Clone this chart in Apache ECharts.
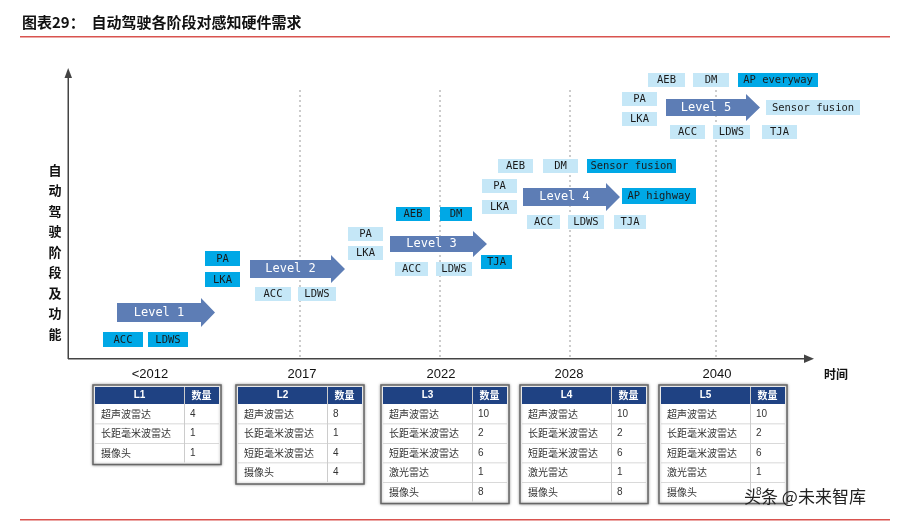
<!DOCTYPE html><html><head><meta charset="utf-8">
<script src="https://cdn.jsdelivr.net/npm/echarts@6/dist/echarts.min.js"></script>
<style>html,body{margin:0;background:#fff}#c{width:906px;height:527px}</style></head><body><div id="c"></div><script>
const title='图表29：  自动驾驶各阶段对感知硬件需求';
const yearLabels=['<2012','2017','2022','2028','2040'];
const yearX=[150,302,441,569,717];
const gridLineX=[300,440,570,716];
const levels=['Level 1','Level 2','Level 3','Level 4','Level 5'];
// boxes: [x0,y0,x1,y1,text,dark?]
const boxes=[
[103,332,143,347,'ACC',1],[148,332,188,347,'LDWS',1],
[205,251,240,266,'PA',1],[205,272,240,287,'LKA',1],[255,287,291,301,'ACC',0],[298,287,336,301,'LDWS',0],
[396,207,430,221,'AEB',1],[440,207,472,221,'DM',1],[348,227,383,241,'PA',0],[348,246,383,260,'LKA',0],
[395,262,428,276,'ACC',0],[436,262,472,276,'LDWS',0],[481,255,512,269,'TJA',1],
[498,159,533,173,'AEB',0],[543,159,578,173,'DM',0],[587,159,676,173,'Sensor fusion',1],
[482,179,517,193,'PA',0],[482,200,517,214,'LKA',0],[622,188,696,204,'AP highway',1],
[527,215,560,229,'ACC',0],[568,215,604,229,'LDWS',0],[614,215,646,229,'TJA',0],
[648,73,685,87,'AEB',0],[693,73,729,87,'DM',0],[738,73,818,87,'AP everyway',1],
[622,92,657,106,'PA',0],[622,112,657,126,'LKA',0],[766,100,860,115,'Sensor fusion',0],
[670,125,705,139,'ACC',0],[713,125,750,139,'LDWS',0],[762,125,797,139,'TJA',0]];
const arrows=[[117,298,215,327],[250,255,345,283],[390,231,487,257],[523,183,620,211],[666,94,760,121]];
const sensors=['超声波雷达','长距毫米波雷达','短距毫米波雷达','激光雷达','摄像头'];
const tableNames=['L1','L2','L3','L4','L5'];
const tableCounts=[[4,1,null,null,1],[8,1,4,null,4],[10,2,6,1,8],[10,2,6,1,8],[10,2,6,1,8]];
const tableX=[95,238,383,522,661];
const ylabel='自动驾驶阶段及功能';

const chart=echarts.init(document.getElementById('c'));
function rect(api,x0,y0,x1,y1,style){const a=api.coord([x0,y0]),b=api.coord([x1,y1]);return {type:'rect',shape:{x:a[0],y:a[1],width:b[0]-a[0],height:b[1]-a[1]},style};}
function txt(api,x,y,t,s){const p=api.coord([x,y]);return {type:'text',x:p[0],y:p[1],style:Object.assign({text:t,align:'center',verticalAlign:'middle',fontFamily:'Noto Sans CJK SC',fontSize:11,fill:'#222'},s||{})};}
const CF='Noto Sans CJK SC';
const series=[
{type:'custom',coordinateSystem:'cartesian2d',data:[0],renderItem:(p,api)=>{
 const ch=[];
 ch.push(rect(api,20,36,890,37.5,{fill:'#d9534f'}));
 ch.push(rect(api,20,519,890,520.5,{fill:'#d9534f'}));
 ch.push(txt(api,22,22,title,{align:'left',fontWeight:'bold',fontSize:15,fill:'#111',fontFamily:CF}));
 // axes
 ch.push(rect(api,67.5,74,69,359,{fill:'#444'}));
 ch.push({type:'polygon',shape:{points:[api.coord([64.5,78]),api.coord([68.2,68]),api.coord([72,78])]},style:{fill:'#444'}});
 ch.push(rect(api,68,358,806,359.5,{fill:'#444'}));
 ch.push({type:'polygon',shape:{points:[api.coord([804,354.5]),api.coord([814,358.7]),api.coord([804,363])]},style:{fill:'#444'}});
 gridLineX.forEach(x=>{const a=api.coord([x,90]),b=api.coord([x,358]);ch.push({type:'line',shape:{x1:a[0],y1:a[1],x2:b[0],y2:b[1]},style:{stroke:'#999',lineDash:[2,3],lineWidth:1}});});
 yearLabels.forEach((l,i)=>ch.push(txt(api,yearX[i],374,l,{fontFamily:'Liberation Sans',fontSize:13,fill:'#111'})));
 ch.push(txt(api,836,374,'时间',{fontWeight:'bold',fontSize:12,fill:'#111'}));
 [...ylabel].forEach((c,i)=>ch.push(txt(api,55,170+i*20.5,c,{fontWeight:'bold',fontSize:13,fill:'#111'})));
 arrows.forEach((a,i)=>{const [x0,y0,x1,y1]=a,m=(y0+y1)/2,h=14;
  ch.push({type:'polygon',shape:{points:[[x0,y0+5],[x1-h,y0+5],[x1-h,y0],[x1,m],[x1-h,y1],[x1-h,y1-5],[x0,y1-5]].map(q=>api.coord(q))},style:{fill:'#5d7db5'}});
  ch.push(txt(api,(x0+x1-h)/2,m,levels[i],{fill:'#fff',fontFamily:'DejaVu Sans Mono',fontSize:12}));});
 boxes.forEach(b=>{ch.push(rect(api,b[0],b[1],b[2],b[3],{fill:b[5]?'#00a8e6':'#c5e7f7'}));
  ch.push(txt(api,(b[0]+b[2])/2,(b[1]+b[3])/2+0.5,b[4],{fontFamily:'DejaVu Sans Mono',fontSize:10.5,fill:'#1a1a1a'}));});
 // tables
 tableNames.forEach((n,t)=>{const x0=tableX[t],x1=x0+124,xs=x0+89,top=387,hh=17,rh=19.5;
  const rows=sensors.map((s,i)=>[s,tableCounts[t][i]]).filter(r=>r[1]!=null);
  const bot=top+hh+rows.length*rh;
  ch.push(rect(api,x0-2,top-2,x1+2,bot+2,{fill:'#fff',stroke:'#666',lineWidth:1.5,shadowBlur:3,shadowColor:'rgba(0,0,0,0.35)'}));
  ch.push(rect(api,x0,top,x1,top+hh,{fill:'#1f4283'}));
  ch.push(txt(api,(x0+xs)/2,top+hh/2,n,{fill:'#fff',fontWeight:'bold',fontSize:10,fontFamily:'Liberation Sans'}));
  ch.push(txt(api,(xs+x1)/2,top+hh/2,'数量',{fill:'#fff',fontWeight:'bold',fontSize:10}));
  ch.push(rect(api,xs,top,xs+1,bot,{fill:'#ccc'}));
  rows.forEach((r,i)=>{const y=top+hh+i*rh;
   if(i>0)ch.push(rect(api,x0,y,x1,y+0.8,{fill:'#ccc'}));
   ch.push(txt(api,x0+6,y+rh/2,r[0],{align:'left',fontSize:10,fill:'#333'}));
   ch.push(txt(api,xs+6,y+rh/2,String(r[1]),{align:'left',fontSize:10,fill:'#333',fontFamily:'Liberation Sans'}));});
 });
 ch.push(txt(api,805,497,'头条 @未来智库',{fontSize:17,fill:'#222',fontFamily:CF}));
 return {type:'group',children:ch};}}];
chart.setOption({animation:false,grid:{left:0,right:0,top:0,bottom:0},
 xAxis:{type:'value',min:0,max:906,show:false},yAxis:{type:'value',min:0,max:527,inverse:true,show:false},series});
</script></body></html>
